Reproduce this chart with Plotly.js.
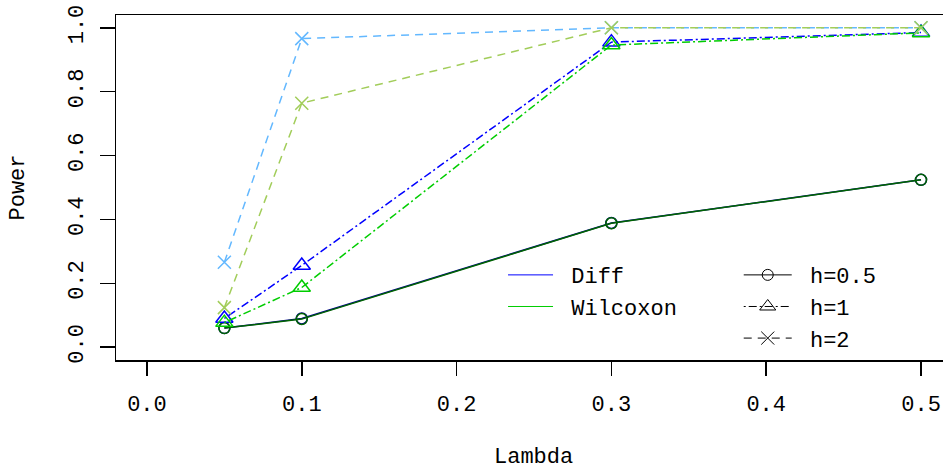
<!DOCTYPE html>
<html>
<head>
<meta charset="utf-8">
<script src="https://cdn.plot.ly/plotly-3.0.1.min.js"></script>
<style>html,body{margin:0;padding:0;background:#fff;}#chart{width:943px;height:473px;}</style>
</head>
<body>
<div id="chart"></div>
<script>
// ---- data ----
const lambda = [0.05, 0.1, 0.3, 0.5];
const diffH05 = [0.060, 0.090, 0.389, 0.524];
const wilH05  = [0.060, 0.088, 0.388, 0.524];
const diffH1  = [0.090, 0.256, 0.955, 0.985];
const wilH1   = [0.077, 0.187, 0.946, 0.984];
const diffH2  = [0.266, 0.966, 1.000, 1.000];
const wilH2   = [0.124, 0.764, 1.000, 1.000];
const methodNames = ["Diff", "Wilcoxon"];
const hNames = ["h=0.5", "h=1", "h=2"];
const xTicks = [0, 0.1, 0.2, 0.3, 0.4, 0.5];
const yTicks = [0, 0.2, 0.4, 0.6, 0.8, 1.0];

const FONT = "Liberation Mono, Courier New, monospace";
const dashDot = "2px,3px,8px,3px";
const dashed = "8px,6px";
const NB = "\u00a0";

function series(y, color, dash, symbol, msize) {
  return {
    x: lambda, y: y, type: "scatter", mode: "lines+markers", showlegend: false,
    line: {color: color, width: 1.5, dash: dash},
    marker: {symbol: symbol, size: msize, color: color, line: {color: color, width: 1.5}},
    hoverinfo: "skip"
  };
}

const traces = [
  series(diffH05, "#00008b", "solid", "circle-open", 11),
  series(wilH05,  "#006400", "solid", "circle-open", 11),
  series(diffH1,  "#0000ff", dashDot, "triangle-up-open", 15),
  series(wilH1,   "#00cd00", dashDot, "triangle-up-open", 15),
  series(diffH2,  "#63b8ff", dashed, "x-thin-open", 13),
  series(wilH2,   "#a2cd5a", dashed, "x-thin-open", 13)
];

// legend 1 entries (methods)
const methodColors = ["#0000ff", "#00cd00"];
methodNames.forEach((n, i) => traces.push({
  x: [null], y: [null], type: "scatter", mode: "lines", name: NB + n, legend: "legend",
  line: {color: methodColors[i], width: 1}
}));
// legend 2 entries (h)
const hDash = ["solid", dashDot, dashed];
const hSym = ["circle-open", "triangle-up-open", "x-thin-open"];
const hSize = [11, 14, 13];
hNames.forEach((n, i) => traces.push({
  x: [null], y: [null], type: "scatter", mode: "lines+markers", name: NB + n, legend: "legend2",
  line: {color: "#000", width: 1, dash: hDash[i]},
  marker: {symbol: hSym[i], size: hSize[i], color: "#000", line: {color: "#000", width: 1}}
}));

const axisCommon = {
  showgrid: false, zeroline: false, showline: true, linecolor: "#000", linewidth: 1.5,
  ticks: "outside", tickcolor: "#000", tickwidth: 1.5,
  tickfont: {family: FONT, size: 22, color: "#000"}, tickformat: ".1f"
};

const layout = {
  width: 943, height: 473,
  margin: {l: 116, r: 0, t: 15, b: 113, pad: 0},
  paper_bgcolor: "#fff", plot_bgcolor: "#fff",
  font: {family: FONT, size: 22, color: "#000"},
  xaxis: Object.assign({}, axisCommon, {
    range: [-0.02, 0.5142], tickvals: xTicks, ticklen: 14, mirror: true, automargin: false,
    ticklabelstandoff: 9
  }),
  yaxis: Object.assign({}, axisCommon, {
    range: [-0.04, 1.04], tickvals: yTicks, ticklen: 15, tickangle: -90, automargin: false,
    ticklabelstandoff: 8
  }),
  legend: {
    x: 0.468, y: 0.307, xanchor: "left", yanchor: "top", bgcolor: "rgba(0,0,0,0)",
    font: {family: FONT, size: 22, color: "#000"}, itemwidth: 45, tracegroupgap: 0
  },
  legend2: {
    x: 0.753, y: 0.307, xanchor: "left", yanchor: "top", bgcolor: "rgba(0,0,0,0)",
    font: {family: FONT, size: 22, color: "#000"}, itemwidth: 48, tracegroupgap: 0
  },
  annotations: [
    {text: "Power", xref: "paper", yref: "paper", x: -0.1185, y: 0.5, xanchor: "center", yanchor: "middle",
     textangle: -90, showarrow: false, font: {family: FONT, size: 22, color: "#000"}},
    {text: "Lambda", xref: "paper", yref: "paper", x: 0.5054, y: -0.282, xanchor: "center", yanchor: "middle",
     showarrow: false, font: {family: FONT, size: 22, color: "#000"}}
  ],
  showlegend: true
};

Plotly.newPlot("chart", traces, layout, {staticPlot: true, displayModeBar: false});
</script>
</body>
</html>
